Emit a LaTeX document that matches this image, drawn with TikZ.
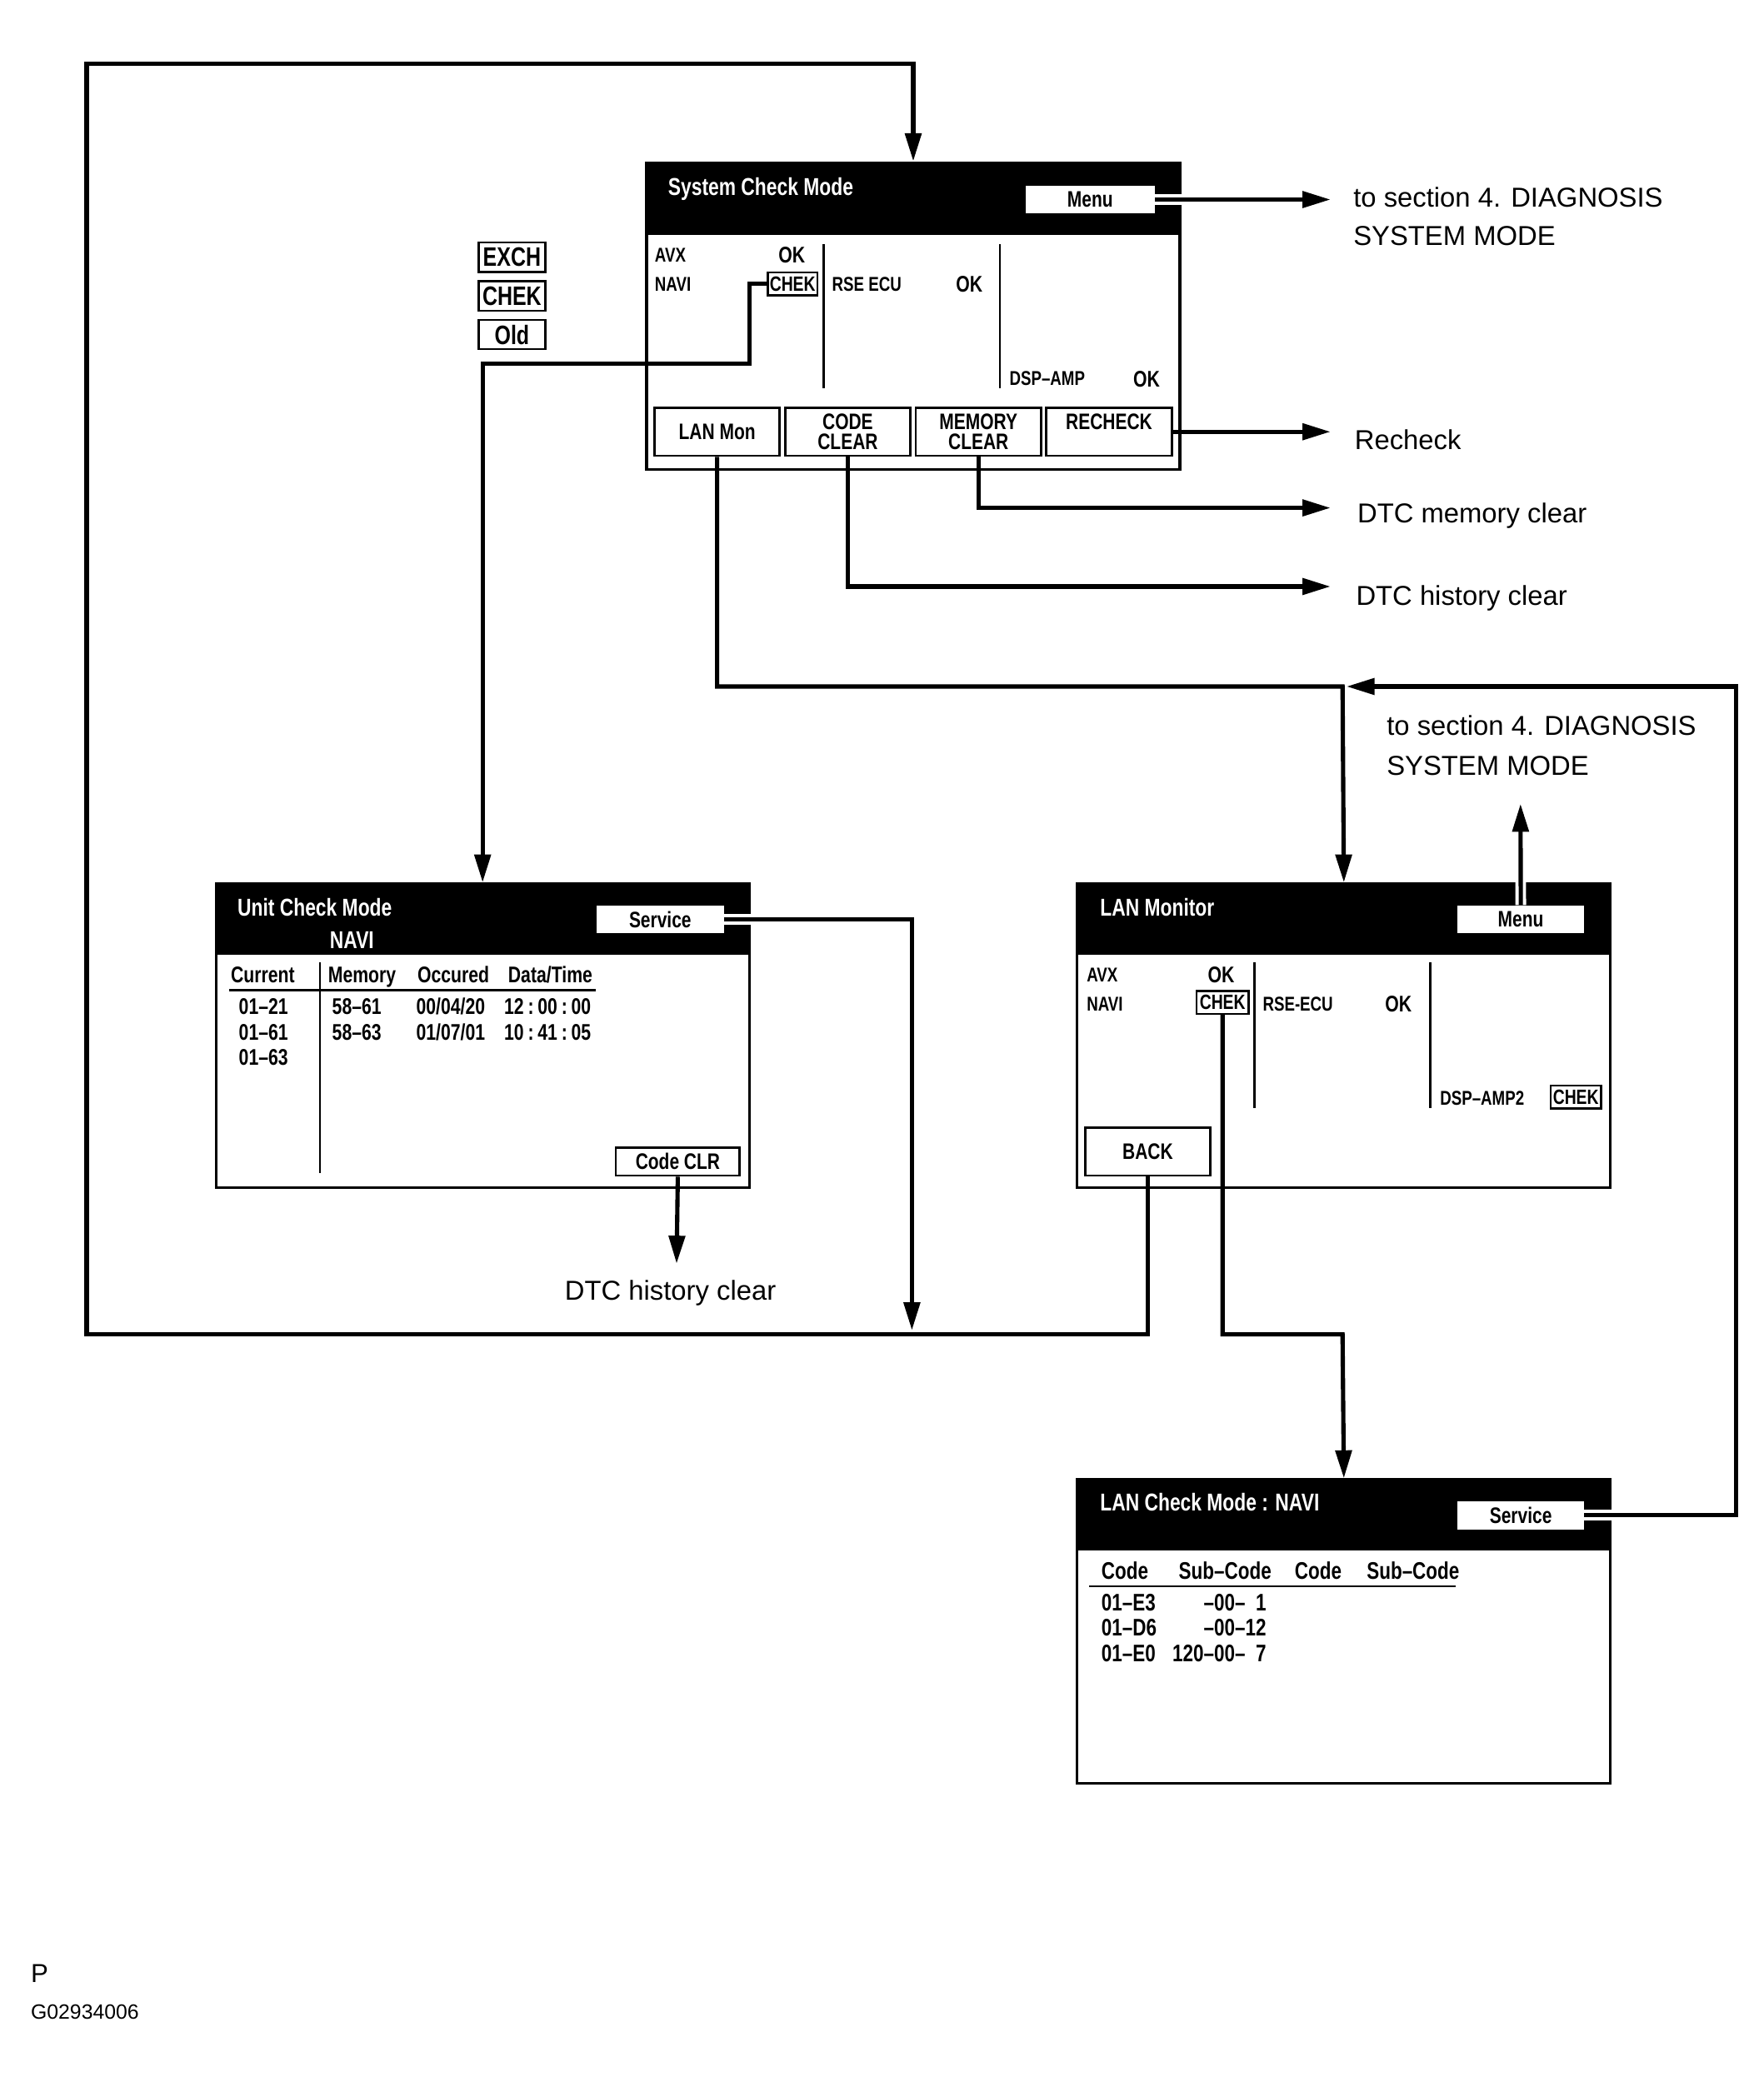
\documentclass[tikz,border=0pt]{standalone}
\usepackage{fontspec}
\setmainfont{Liberation Sans}
\newfontfamily\scrfont[FakeStretch=0.78, Ligatures=TeX]{Liberation Sans}
\usetikzlibrary{arrows.meta}
\begin{document}
\begin{tikzpicture}[x=1pt,y=-1pt]
			\tikzstyle{screen}=[draw, line width=2pt, anchor=north west, minimum width=400pt, minimum height=228pt, inner sep=0pt]
			\tikzstyle{bar}=[fill=black, anchor=north west, minimum width=400pt, minimum height=54pt, inner sep=0pt]
			\tikzstyle{ttl}=[anchor=west, inner sep=0pt, text=white, text height=13pt, text depth=0pt, font=\scrfont\bfseries\fontsize{18.3}{20}\selectfont]
			\tikzstyle{key}=[fill=white, anchor=north west, inner sep=0pt, minimum width=96pt, minimum height=21pt, font=\scrfont\bfseries\fontsize{16.8}{18}\selectfont]
			\tikzstyle{btn}=[draw, line width=1.8pt, fill=white, anchor=north west, inner sep=0pt, align=center, font=\scrfont\bfseries\fontsize{16.8}{15}\selectfont]
			\tikzstyle{item}=[anchor=west, inner sep=0pt, text height=10.7pt, text depth=0pt, font=\scrfont\bfseries\fontsize{15}{16}\selectfont]
			\tikzstyle{ok}=[inner sep=0pt, text height=12.2pt, text depth=0pt, font=\scrfont\bfseries\fontsize{17}{18}\selectfont]
			\tikzstyle{tag}=[draw, line width=1.5pt, inner sep=0pt, minimum width=38pt, minimum height=17pt, font=\scrfont\bfseries\fontsize{15.5}{16}\selectfont]
			\tikzstyle{cell}=[anchor=west, inner sep=0pt, text height=12.2pt, text depth=0pt, font=\scrfont\bfseries\fontsize{17}{18}\selectfont]
			\tikzstyle{lcell}=[inner sep=0pt, text height=12.9pt, text depth=0pt, font=\scrfont\bfseries\fontsize{18}{20}\selectfont]
			\tikzstyle{rule}=[line width=1.7pt]
			\tikzstyle{wire}=[line width=3.2pt]
			\tikzstyle{arr}=[-{Triangle[length=21pt,width=12pt]}]
			\tikzstyle{halo}=[preaction={draw=white, line width=8pt}]
			\tikzstyle{lbl}=[anchor=west, inner sep=0pt, text height=14.7pt, text depth=0pt, font=\fontsize{20.5}{24}\selectfont]
			\useasboundingbox (0,0) rectangle (1323.1,1561.9);
			
			\node[screen, minimum height=230pt] (scm) at (484,121) {};
			\node[bar, minimum height=55pt] (scmbar) at (484,121) {};
			\node[ttl] (scmttl) at (501,140) {System Check Mode};
			\node[key, minimum width=97pt] (scmmenu) at (769,139) {Menu};
			\node[item] (scmavx) at (491,191) {AVX};
			\node[ok] (scmok1) at (594,191) {OK};
			\node[item] (scmnavi) at (491,213) {NAVI};
			\node[tag, minimum width=37pt] (scmchek) at (594.5,213) {CHEK};
			\draw[rule] (618,183) -- (618,291);
			\draw[rule] (750,183) -- (750,291);
			\node[item] (scmrse) at (624,213) {RSE ECU};
			\node[ok] (scmok2) at (727,213) {OK};
			\node[item] (scmdsp) at (757,284) {DSP--AMP};
			\node[ok] (scmok3) at (860,284) {OK};
			\node[btn, minimum width=94pt, minimum height=36pt] (lanmon) at (490,305) {LAN Mon};
			\node[btn, minimum width=94pt, minimum height=36pt] (codeclr) at (588,305) {CODE\\CLEAR};
			\node[btn, minimum width=94pt, minimum height=36pt] (memclr) at (686,305) {MEMORY\\CLEAR};
			\node[btn, minimum width=94pt, minimum height=36pt] (recheck) at (784,305) {RECHECK\\\mbox{}};
			
			\node[tag, minimum width=50pt, minimum height=22pt, font=\scrfont\bfseries\fontsize{20}{20}\selectfont] (exch) at (384,193) {EXCH};
			\node[tag, minimum width=50pt, minimum height=22pt, font=\scrfont\bfseries\fontsize{20}{20}\selectfont] (chek) at (384,222) {CHEK};
			\node[tag, minimum width=50pt, minimum height=22pt, font=\scrfont\bfseries\fontsize{20}{20}\selectfont] (old) at (384,251) {Old};
			
			\node[screen] (ucm) at (161,662) {};
			\node[bar] (ucmbar) at (161,662) {};
			\node[ttl] (ucmttl) at (178,681) {Unit Check Mode};
			\node[ttl, anchor=center] (ucmnavi) at (264,705) {NAVI};
			\node[key] (ucmsvc) at (447,679) {Service};
			\node[cell] (cur) at (173,731) {Current};
			\node[cell] (mem) at (246,731) {Memory};
			\node[cell] (occ) at (313,731) {Occured};
			\node[cell] (dat) at (381,731) {Data/Time};
			\draw[rule] (172,743) -- (447,743);
			\draw[rule] (240,722) -- (240,880);
			\node[cell] (c11) at (179,755) {01--21};
			\node[cell] (c12) at (249,755) {58--61};
			\node[cell] (c13) at (312,755) {00/04/20};
			\node[cell] (c14) at (378,755) {12\kern3pt:\kern3pt00\kern3pt:\kern3pt00};
			\node[cell] (c21) at (179,774) {01--61};
			\node[cell] (c22) at (249,774) {58--63};
			\node[cell] (c23) at (312,774) {01/07/01};
			\node[cell] (c24) at (378,774) {10\kern3pt:\kern3pt41\kern3pt:\kern3pt05};
			\node[cell] (c31) at (179,793) {01--63};
			\node[btn, minimum width=93pt, minimum height=21pt] (ucmclr) at (461,860) {Code CLR};
			
			\node[screen] (lm) at (807,662) {};
			\node[bar] (lmbar) at (807,662) {};
			\node[ttl] (lmttl) at (825,681) {LAN Monitor};
			\node[key, minimum width=95pt] (lmmenu) at (1093,679) {Menu};
			\node[item] (lmavx) at (815,731) {AVX};
			\node[ok] (lmok1) at (916,731) {OK};
			\node[item] (lmnavi) at (815,753) {NAVI};
			\node[tag, minimum width=39pt] (lmchek) at (917,752) {CHEK};
			\draw[rule] (941,722) -- (941,831);
			\draw[rule] (1073,722) -- (1073,831);
			\node[item] (lmrse) at (947,753) {RSE-ECU};
			\node[ok] (lmok2) at (1049,753) {OK};
			\node[item] (lmdsp) at (1080,824) {DSP--AMP2};
			\node[tag] (lmchek2) at (1182,823) {CHEK};
			\node[btn, minimum width=94pt, minimum height=36pt] (back) at (813,845) {BACK};
			
			\node[screen] (lcm) at (807,1109) {};
			\node[bar] (lcmbar) at (807,1109) {};
			\node[ttl] (lcmttl) at (825,1127) {LAN Check Mode : NAVI};
			\node[key, minimum width=95pt] (lcmsvc) at (1093,1126) {Service};
			\node[lcell, anchor=west] (h1) at (826,1178) {Code};
			\node[lcell, anchor=west] (h2) at (884,1178) {Sub--Code};
			\node[lcell, anchor=west] (h3) at (971,1178) {Code};
			\node[lcell, anchor=west] (h4) at (1025,1178) {Sub--Code};
			\draw[rule] (817,1190) -- (1092,1190);
			\node[lcell, anchor=west] (r11) at (826,1202) {01--E3};
			\node[lcell, anchor=east] (r12) at (950,1202) {--00--\phantom{1}1};
			\node[lcell, anchor=west] (r21) at (826,1221) {01--D6};
			\node[lcell, anchor=east] (r22) at (950,1221) {--00--12};
			\node[lcell, anchor=west] (r31) at (826,1240) {01--E0};
			\node[lcell, anchor=east] (r32) at (950,1240) {120--00--\phantom{1}7};
			
			\coordinate (rt) at (998,0);
			\coordinate (mc) at (998,381);
			\coordinate (cc) at (998,440);
			\coordinate (j1) at (1007,515);
			\coordinate (j2) at (1010,515);
			\coordinate (j3) at (1007,1001);
			\coordinate (um) at (1140.5,603);
			\coordinate (sv) at (684,998);
			\coordinate (dh) at (507.5,948);
			
			\draw[wire, halo, arr] (scmmenu.east) -- (scmmenu.east -| rt);
			\draw[wire, halo, arr] (lmmenu.north) -- (um);
			\draw[wire, halo, arr] (lcmsvc.east) -| (1302,515) -- (j2);
			\draw[wire, halo, arr] (ucmsvc.east) -| (sv);
			\draw[wire, arr] (recheck.east) -- (recheck.east -| rt);
			\draw[wire, arr] (memclr.south) |- (mc);
			\draw[wire, arr] (codeclr.south) |- (cc);
			\draw[wire, arr] (lanmon.south) |- (j1) -- (lm.north);
			\draw[wire, arr] (scmchek.west) -| (562,273) -| (ucm.north);
			\draw[wire, arr] (ucmclr.south) -- (dh);
			\draw[wire, arr] (back.south) |- (65,1001) -- (65,48) -| (scm.north);
			\draw[wire, arr] (lmchek.south) |- (j3) -- (lcm.north);
			
			\node[lbl] (t1) at (1015,148) {to section 4. DIAGNOSIS};
			\node[lbl] (t2) at (1015,177) {SYSTEM MODE};
			\node[lbl] (t3) at (1016,330) {Recheck};
			\node[lbl] (t4) at (1018,385) {DTC memory clear};
			\node[lbl] (t5) at (1017,447) {DTC history clear};
			\node[lbl] (t6) at (1040,544) {to section 4. DIAGNOSIS};
			\node[lbl] (t7) at (1040,574) {SYSTEM MODE};
			\node[lbl] (t8) at (423.5,968) {DTC history clear};
			\node[lbl, text height=14pt, font=\fontsize{19.5}{22}\selectfont] (t9) at (23,1480) {P};
			\node[lbl, text height=11.1pt, font=\fontsize{15.5}{18}\selectfont] (t10) at (23,1509) {G02934006};
			
		\end{tikzpicture}
\end{document}
